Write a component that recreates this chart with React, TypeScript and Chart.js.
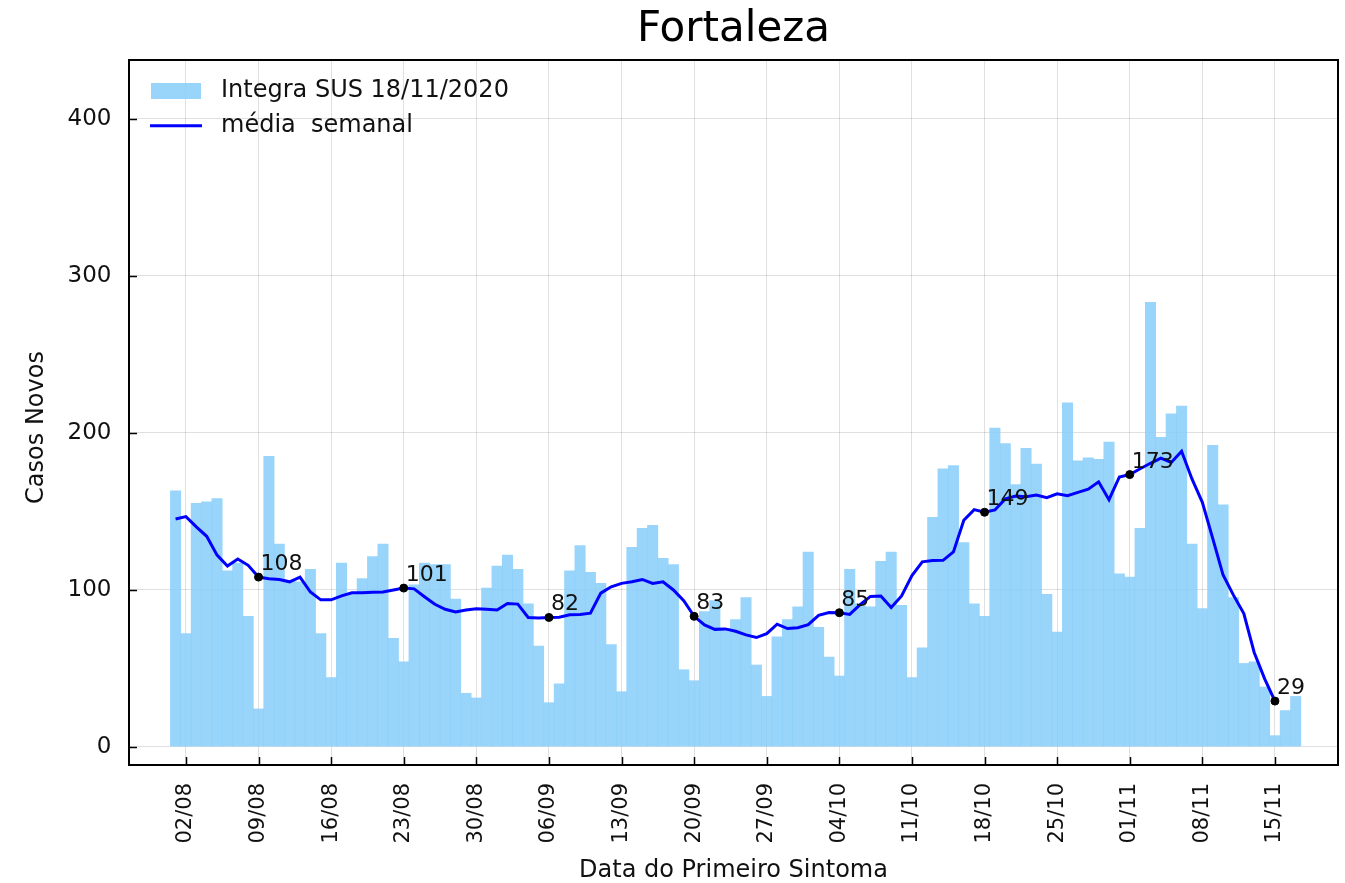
import React, { useEffect, useRef } from 'react';
import { Chart, registerables } from 'chart.js';

Chart.register(...registerables);

// x positions are day indices: 0 = 01/08 ... 108 = 17/11
const xTickIdx = [1, 8, 15, 22, 29, 36, 43, 50, 57, 64, 71, 78, 85, 92, 99, 106];
const xTickLabels = ['02/08', '09/08', '16/08', '23/08', '30/08', '06/09', '13/09', '20/09', '27/09', '04/10', '11/10', '18/10', '25/10', '01/11', '08/11', '15/11'];
const yTicks = [0, 100, 200, 300, 400];

// daily new cases, 01/08 .. 17/11
const casosAgo = [163, 72, 155, 156, 158, 112, 117, 83, 24, 185, 129, 106, 105, 113, 72, 44, 117, 97, 107, 121, 129, 69, 54, 103, 117, 116, 116, 94, 34, 31, 101];
const casosSet = [115, 122, 113, 91, 64, 28, 40, 112, 128, 111, 104, 65, 35, 127, 139, 141, 120, 116, 49, 42, 86, 93, 75, 81, 95, 52, 32, 70, 81, 89];
const casosOut = [124, 76, 57, 45, 113, 91, 89, 118, 124, 90, 44, 63, 146, 177, 179, 130, 91, 83, 203, 193, 167, 190, 180, 97, 73, 219, 182, 184, 183, 194, 110];
const casosNov = [108, 139, 283, 197, 212, 217, 129, 88, 192, 154, 95, 53, 54, 38, 7, 23, 32];
const casos = [...casosAgo, ...casosSet, ...casosOut, ...casosNov];

// weekly mean line, 01/08 .. 15/11
const mediaAgo = [145, 146.5, 140, 134, 122, 115, 119.5, 115.5, 108, 107, 106.5, 105, 108, 98.5, 93.5, 93.5, 96, 98, 98, 98.3, 98.5, 99.8, 101, 100.5, 95.5, 90.7, 87.5, 85.8, 87, 87.8, 87.5];
const mediaSet = [87, 91.2, 90.8, 82.3, 82, 82.3, 82.4, 84, 84.2, 85, 97.8, 101.8, 104, 105, 106.5, 104, 105, 99.8, 93, 83, 77.5, 74.7, 75, 73.5, 71.2, 69.5, 72, 78, 75.2, 75.7];
const mediaOut = [77.7, 83.6, 85.4, 85.3, 84.2, 90.5, 95.7, 96, 88.7, 96, 109, 117.7, 118.5, 118.7, 124, 144.2, 151, 149.3, 150.8, 157.8, 159.7, 159.2, 160.3, 158.6, 161, 159.9, 162, 164, 168.7, 157.3, 171.8];
const mediaNov = [173.3, 177, 180.5, 183.8, 181, 188.2, 170.5, 155.6, 132.7, 109.3, 96.5, 84.8, 60, 43.3, 29];
const media = [...mediaAgo, ...mediaSet, ...mediaOut, ...mediaNov];

const markerIdx = [8, 22, 36, 50, 64, 78, 92, 106];
const markerText = ['108', '101', '82', '83', '85', '149', '173', '29'];

const barLabel = 'Integra SUS 18/11/2020';
const lineLabel = 'média  semanal';
const yTitle = 'Casos Novos';

const FONT = '"DejaVu Sans", "Noto Sans", sans-serif';
const BAR_COLOR = 'rgba(135,206,250,0.85)';
const LINE_COLOR = '#0000ff';
const TEXT_COLOR = '#111111';

const framePlugin = {
  id: 'frameTicks',
  afterDraw(chart: any) {
    const { ctx, chartArea: a, scales } = chart;
    ctx.save();
    ctx.strokeStyle = '#000';
    ctx.lineWidth = 1.5;
    ctx.beginPath();
    scales.y.ticks.forEach((t: any) => {
      const y = Math.round(scales.y.getPixelForValue(t.value)) + 0.5;
      ctx.moveTo(a.left, y);
      ctx.lineTo(a.left + 8, y);
    });
    scales.x.ticks.forEach((t: any) => {
      const x = Math.round(scales.x.getPixelForValue(t.value)) + 0.5;
      ctx.moveTo(x, a.bottom);
      ctx.lineTo(x, a.bottom - 8);
    });
    ctx.stroke();
    ctx.lineWidth = 2;
    ctx.strokeRect(a.left, a.top, a.right - a.left, a.bottom - a.top);
    // y axis title
    ctx.fillStyle = TEXT_COLOR;
    ctx.font = `24px ${FONT}`;
    ctx.textAlign = 'center';
    ctx.textBaseline = 'middle';
    ctx.translate(37, (a.top + a.bottom) / 2 + 15);
    ctx.rotate(-Math.PI / 2);
    ctx.fillText(yTitle, 0, 0);
    ctx.restore();
  },
};

const legendPlugin = {
  id: 'innerLegend',
  afterDraw(chart: any) {
    const { ctx, chartArea: a } = chart;
    ctx.save();
    ctx.fillStyle = BAR_COLOR;
    ctx.fillRect(a.left + 22, a.top + 23, 50, 16);
    ctx.strokeStyle = LINE_COLOR;
    ctx.lineWidth = 3;
    ctx.beginPath();
    ctx.moveTo(a.left + 21, a.top + 65.7);
    ctx.lineTo(a.left + 73, a.top + 65.7);
    ctx.stroke();
    ctx.fillStyle = TEXT_COLOR;
    ctx.font = `24px ${FONT}`;
    ctx.textAlign = 'left';
    ctx.textBaseline = 'middle';
    ctx.fillText(barLabel, a.left + 92, a.top + 31);
    ctx.fillText(lineLabel, a.left + 92, a.top + 65.7);
    ctx.restore();
  },
};

const annoPlugin = {
  id: 'pointLabels',
  afterDatasetsDraw(chart: any) {
    const { ctx, scales } = chart;
    ctx.save();
    ctx.fillStyle = TEXT_COLOR;
    ctx.font = `22px ${FONT}`;
    ctx.textAlign = 'left';
    ctx.textBaseline = 'alphabetic';
    markerIdx.forEach((idx, k) => {
      const px = scales.x.getPixelForValue(idx);
      const py = scales.y.getPixelForValue(media[idx]);
      ctx.fillText(markerText[k], px + 2, py - 7);
    });
    ctx.restore();
  },
};

export default function App() {
  const ref = useRef<HTMLCanvasElement | null>(null);

  useEffect(() => {
    if (!ref.current) return;
    const chart = new Chart(ref.current, {
      type: 'bar',
      data: {
        datasets: [
          {
            type: 'scatter',
            label: 'marcos',
            data: markerIdx.map((i) => ({ x: i, y: media[i] })),
            backgroundColor: '#000',
            borderColor: '#000',
            pointRadius: 4,
            order: 1,
          } as any,
          {
            type: 'line',
            label: lineLabel,
            data: media.map((v, i) => ({ x: i, y: v })),
            borderColor: LINE_COLOR,
            borderWidth: 3,
            pointRadius: 0,
            tension: 0,
            fill: false,
            order: 2,
          } as any,
          {
            type: 'bar',
            label: barLabel,
            data: casos.map((v, i) => ({ x: i, y: v })),
            backgroundColor: BAR_COLOR,
            borderWidth: 0,
            barPercentage: 1,
            categoryPercentage: 1,
            order: 3,
          } as any,
        ],
      },
      options: {
        responsive: false,
        animation: false,
        events: [],
        layout: { padding: { left: 0, right: 7, top: 0, bottom: 0 } },
        plugins: {
          legend: { display: false },
          tooltip: { enabled: false },
          title: {
            display: true,
            fullSize: false,
            text: 'Fortaleza',
            color: '#000',
            font: { family: FONT, size: 42, weight: 'normal', lineHeight: 1.2 },
            padding: { top: 5.3, bottom: 4.3 },
          },
        },
        scales: {
          x: {
            type: 'linear',
            min: -4.49,
            max: 112.08,
            offset: false,
            grid: { offset: false, color: 'rgba(0,0,0,0.12)', lineWidth: 1, drawTicks: false },
            border: { display: false },
            ticks: {
              autoSkip: false,
              maxRotation: 90,
              minRotation: 90,
              padding: 18,
              color: TEXT_COLOR,
              font: { family: FONT, size: 21 },
              callback: (value: any) => {
                const k = xTickIdx.indexOf(Number(value));
                return k >= 0 ? xTickLabels[k] : '';
              },
            },
            afterBuildTicks: (scale: any) => {
              scale.ticks = xTickIdx.map((v) => ({ value: v }));
            },
            afterFit: (scale: any) => {
              scale.height = 118;
            },
            title: {
              display: true,
              text: 'Data do Primeiro Sintoma',
              color: TEXT_COLOR,
              font: { family: FONT, size: 24, lineHeight: 1 },
              padding: { top: 0, bottom: 0 },
            },
          } as any,
          y: {
            type: 'linear',
            min: -11.7,
            max: 437.4,
            grid: { color: 'rgba(0,0,0,0.12)', lineWidth: 1, drawTicks: false },
            border: { display: false },
            ticks: {
              padding: 17.5,
              color: TEXT_COLOR,
              font: { family: FONT, size: 23 },
              callback: (value: any) => String(value),
            },
            afterBuildTicks: (scale: any) => {
              scale.ticks = yTicks.map((v) => ({ value: v }));
            },
            afterFit: (scale: any) => {
              scale.width = 129;
            },
          } as any,
        },
      },
      plugins: [framePlugin, legendPlugin, annoPlugin],
    });
    return () => chart.destroy();
  }, []);

  return (
    <div style={{ position: 'fixed', left: 0, top: 0, width: 1345, height: 883, background: '#fff' }}>
      <canvas ref={ref} width={1345} height={883} style={{ display: 'block', width: 1345, height: 883 }} />
    </div>
  );
}
